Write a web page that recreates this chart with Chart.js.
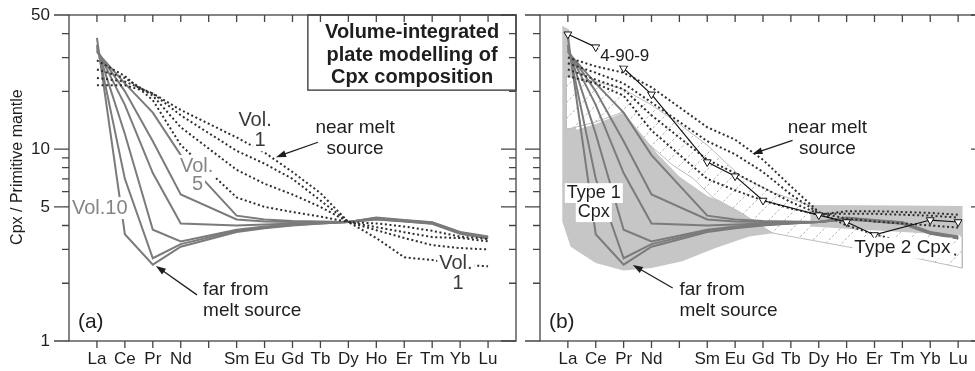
<!DOCTYPE html>
<html>
<head>
<meta charset="utf-8">
<script src="https://cdn.jsdelivr.net/npm/chart.js@4.4.1/dist/chart.umd.min.js"></script>
<style>
  html, body { margin: 0; padding: 0; background: #fff; overflow: hidden; width: 975px; height: 371px; }
  canvas { position: absolute; top: 0; }
  #panelA { left: 0; }
  #panelB { left: 525px; }
</style>
</head>
<body>
<canvas id="panelA" width="525" height="371"></canvas>
<canvas id="panelB" width="470" height="371"></canvas>
<script>
const FONT = '"Liberation Sans", Arial, Helvetica, sans-serif';

// REE order (Pm keeps its slot on the axis but has no data)
const elements = ['La', 'Ce', 'Pr', 'Nd', 'Pm', 'Sm', 'Eu', 'Gd', 'Tb', 'Dy', 'Ho', 'Er', 'Tm', 'Yb', 'Lu'];
const yTicks = [1, 2, 3, 4, 5, 6, 7, 8, 9, 10, 20, 30, 40, 50];
const yLabelled = [1, 5, 10, 50];

// plate model, far from the melt source (solid grey)
const vol5  = [32, 22, 15.5, 9.3, null, 4.5, 4.3, 4.22, 4.2, 4.17, 4.4, 4.27, 4.16, 3.7, 3.5];
const vol6  = [32.5, 20, 11, 5.8, null, 4.3, 4.2, 4.17, 4.17, 4.17, 4.38, 4.25, 4.14, 3.68, 3.48];
const vol7  = [33, 17, 7.5, 4.1, null, 4.0, 4.05, 4.1, 4.15, 4.17, 4.36, 4.23, 4.12, 3.67, 3.46];
const vol8  = [34, 12, 3.8, 3.3, null, 3.8, 3.95, 4.05, 4.12, 4.17, 4.34, 4.22, 4.11, 3.65, 3.45];
const vol9  = [35, 7.0, 2.7, 3.2, null, 3.75, 3.9, 4.02, 4.1, 4.17, 4.32, 4.21, 4.1, 3.64, 3.44];
const vol10 = [38, 3.6, 2.5, 3.1, null, 3.7, 3.87, 4.0, 4.1, 4.17, 4.3, 4.2, 4.08, 3.62, 3.42];

// plate model, near the melt source (dotted), panel (a)
const vol1 = [21.5, 21.5, 19.5, 16, null, 11.5, 9.6, 7.6, 5.9, 4.17, 3.44, 2.73, 2.64, 2.5, 2.45];
const vol2 = [23.5, 22.5, 19.5, 15, null, 9.8, 8.4, 7.0, 5.4, 4.17, 3.78, 3.44, 3.16, 3.05, 3.0];
const vol3 = [26, 23.5, 19, 13, null, 7.8, 6.6, 5.8, 5.0, 4.17, 3.92, 3.69, 3.48, 3.44, 3.31];
const vol4 = [29, 24, 18, 10.5, null, 5.6, 5.0, 4.7, 4.45, 4.17, 4.1, 3.95, 3.75, 3.5, 3.4];

// near-source curves, panel (b)
const nearB1 = [30, 27, 25, 21, null, 13, 11.2, 8.8, 6.4, 4.7, 4.0, 3.6, 3.3, 3.0, 2.8];
const nearB2 = [28, 25, 22, 17.5, null, 11, 9.4, 7.6, 5.8, 4.65, 4.35, 4.2, 4.1, 4.0, 3.9];
const nearB3 = [26, 23, 20.5, 15, null, 8.8, 7.5, 6.3, 5.3, 4.6, 4.6, 4.6, 4.55, 4.5, 4.4];
const nearB4 = [24, 22, 19, 12.5, null, 7.0, 6.1, 5.4, 4.9, 4.55, 4.75, 4.75, 4.7, 4.65, 4.55];

// sample 4-90-9 (no Tb, Tm)
const sample4909 = [39.7, 34, 26.4, 19.3, null, 8.56, 7.23, 5.4, null, 4.53, 4.17, 3.57, null, 4.27, 4.17];

// Type 1 Cpx field (outline: position along REE axis, normalised value)
const type1X = [-0.2, 0.05, 0.3, 1.0, 2.0, 2.6, 3.2, 4.0, 5.0, 6.0, 7.0, 8.8, 14.15, 14.15, 12, 10, 8, 6.5, 5.3, 4.1, 3.0, 2.0, 1.0, 0.1, -0.2, -0.2];
const type1Y = [44, 42, 12.6, 13.5, 15.5, 12.5, 9.5, 7.2, 5.7, 5.0, 4.75, 5.1, 5.05, 3.55, 3.7, 3.9, 3.75, 3.5, 3.05, 2.6, 2.4, 2.33, 2.55, 3.1, 4.2, 44];

// Type 2 Cpx field (hatched)
const type2X = [-0.05, 1, 2, 3, 4, 5, 6.2, 7.4, 8.85, 9.2, 14.15, 14.15, 12.5, 10, 7.35, 6.17, 5.2, 4.48, 3.76, 2.94, 1.97, 0.97, 0.07, -0.05, -0.05];
const type2Y = [24, 22.5, 20.5, 17, 13.5, 10.5, 7.2, 5.9, 5.0, 4.4, 4.2, 2.4, 2.7, 3.1, 3.65, 4.7, 5.6, 7.06, 8.25, 10.5, 15.6, 13.8, 12.8, 12.8, 24];

// Type 1 field, HREE band
const bandX = [8.7, 14.15, 14.15, 12, 10, 8.7, 8.7];
const bandY = [5.1, 5.05, 3.55, 3.7, 3.85, 3.95, 5.1];

const pts = vals => vals.map((v, i) => ({x: i, y: v}));
const poly = (xs, ys) => xs.map((x, i) => ({x, y: ys[i]}));

const GREY_LINE = '#7b7b7b';
const DARK = '#1e1e1e';
const solid = vals => ({data: pts(vals), borderColor: GREY_LINE, borderWidth: 2, pointRadius: 0, spanGaps: true, fill: false, order: 5});
const dotted = vals => ({data: pts(vals), borderColor: '#2e2e2e', borderWidth: 2, borderDash: [2, 2.6], pointRadius: 0, spanGaps: true, fill: false, order: 4});

function hatch() {
  const c = document.createElement('canvas');
  c.width = 16; c.height = 16;
  const g = c.getContext('2d');
  g.fillStyle = '#fff';
  g.fillRect(0, 0, 16, 16);
  g.strokeStyle = '#b4b4b4';
  g.lineWidth = 1;
  g.setLineDash([2.5, 2]);
  g.beginPath();
  g.moveTo(0, 16);
  g.lineTo(16, 0);
  g.stroke();
  return g.createPattern(c, 'repeat');
}

const reePanel = {
  id: 'reePanel',
  afterDatasetsDraw(chart, args, opts) {
    const {ctx, scales: {x, y}} = chart;
    const X = v => x.getPixelForValue(v), Y = v => y.getPixelForValue(v);
    ctx.save();
    if (opts.box) {
      const b = opts.box;
      const l = X(b.x0), r = X(b.x1), t = Y(b.y1), bt = Y(b.y0);
      ctx.fillStyle = '#fff';
      ctx.fillRect(l, t, r - l, bt - t);
      ctx.strokeStyle = '#333';
      ctx.lineWidth = 1.3;
      ctx.strokeRect(l, t, r - l, bt - t);
    }
    ctx.strokeStyle = DARK;
    ctx.fillStyle = DARK;
    for (const a of opts.arrows || []) {
      const x1 = X(a.x1), y1 = Y(a.y1), x2 = X(a.x2), y2 = Y(a.y2);
      const ang = Math.atan2(y2 - y1, x2 - x1);
      const len = 10, half = 3.5;
      const c = Math.cos(ang), s = Math.sin(ang);
      ctx.lineWidth = 1.3;
      ctx.beginPath();
      ctx.moveTo(x1, y1);
      ctx.lineTo(x2 - c * len * 0.8, y2 - s * len * 0.8);
      ctx.stroke();
      ctx.beginPath();
      ctx.moveTo(x2, y2);
      ctx.lineTo(x2 - len * c + half * s, y2 - len * s - half * c);
      ctx.lineTo(x2 - len * c - half * s, y2 - len * s + half * c);
      ctx.closePath();
      ctx.fill();
    }
    for (const n of opts.notes || []) {
      const size = n.size || 19;
      ctx.font = (n.bold ? 'bold ' : '') + size + 'px ' + FONT;
      ctx.textAlign = n.align || 'center';
      ctx.textBaseline = 'middle';
      const px = X(n.x), py = Y(n.y);
      if (n.bg) {
        const w = ctx.measureText(n.text).width, h = size * 1.1;
        const lx = n.align === 'left' ? px : px - w / 2;
        ctx.fillStyle = '#fff';
        ctx.fillRect(lx - 2, py - h / 2, w + 4, h);
      }
      ctx.fillStyle = n.color || DARK;
      ctx.fillText(n.text, px, py);
    }
    ctx.restore();
  },
  afterDraw(chart, args, opts) {
    const {ctx, chartArea: a, scales: {x, y}} = chart;
    ctx.save();
    ctx.strokeStyle = '#444';
    ctx.lineWidth = 1.3;
    ctx.strokeRect(a.left, a.top, a.right - a.left, a.bottom - a.top);
    ctx.beginPath();
    elements.forEach((_, i) => {
      const px = x.getPixelForValue(i);
      ctx.moveTo(px, a.bottom); ctx.lineTo(px, a.bottom + 7);
      ctx.moveTo(px, a.top); ctx.lineTo(px, a.top + 7);
    });
    for (const v of yTicks) {
      const py = y.getPixelForValue(v);
      const len = yLabelled.includes(v) ? 15 : 7;
      ctx.moveTo(a.left - len, py); ctx.lineTo(a.left, py);
      ctx.moveTo(a.right, py); ctx.lineTo(a.right - len, py);
    }
    ctx.stroke();
    if (opts.yTitle) {
      ctx.translate(a.left - 51, y.getPixelForValue(8.06));
      ctx.rotate(-Math.PI / 2);
      ctx.font = '16px ' + FONT;
      ctx.fillStyle = DARK;
      ctx.textAlign = 'center';
      ctx.textBaseline = 'middle';
      ctx.fillText(opts.yTitle, 0, 0);
    }
    ctx.restore();
  }
};

function panel(id, datasets, opts) {
  return new Chart(document.getElementById(id), {
    type: 'line',
    data: {datasets},
    options: {
      responsive: false,
      animation: false,
      events: [],
      layout: {padding: {top: 15, right: 9, left: 0, bottom: 0}},
      elements: {line: {tension: 0}},
      plugins: {legend: {display: false}, tooltip: {enabled: false}, reePanel: opts},
      scales: {
        x: {
          type: 'linear', min: -1, max: 15,
          afterBuildTicks: s => { s.ticks = elements.map((_, i) => ({value: i})); },
          afterFit: s => { s.height = 30; s.paddingLeft = 0; s.paddingRight = 0; },
          grid: {display: false, drawTicks: false},
          border: {display: false},
          ticks: {
            autoSkip: false, maxRotation: 0, padding: 8, color: DARK,
            font: {size: 17, family: FONT},
            callback: v => (elements[v] === 'Pm' ? '' : elements[v])
          }
        },
        y: {
          type: 'logarithmic', min: 1, max: 50,
          afterBuildTicks: s => { s.ticks = yTicks.map(v => ({value: v})); },
          // labels sit 19px off the axis; keep that gap out of the plot-area padding
          afterFit: s => { s.width = opts.axisWidth; s.paddingTop = 0; s.paddingBottom = 0; },
          grid: {display: false, drawTicks: false},
          border: {display: false},
          ticks: {
            display: opts.yLabels, autoSkip: false, padding: 19, color: DARK,
            font: {size: 17, family: FONT},
            callback: v => (yLabelled.includes(v) ? String(v) : '')
          }
        }
      }
    },
    plugins: [reePanel]
  });
}

const GREY_TEXT = '#858585';

panel('panelA', [
  solid(vol5), solid(vol6), solid(vol7), solid(vol8), solid(vol9), solid(vol10),
  dotted(vol1), dotted(vol2), dotted(vol3), dotted(vol4)
], {
  axisWidth: 69, yLabels: true, yTitle: 'Cpx / Primitive mantle',
  box: {x0: 7.55, x1: 15, y0: 20.3, y1: 50},
  arrows: [
    {x1: 7.91, y1: 10.86, x2: 6.41, y2: 9.08},
    {x1: 3.58, y1: 1.74, x2: 2.11, y2: 2.46}
  ],
  notes: [
    {text: 'Volume-integrated', x: 11.28, y: 40.7, bold: true, size: 20},
    {text: 'plate modelling of', x: 11.28, y: 30.9, bold: true, size: 20},
    {text: 'Cpx composition', x: 11.28, y: 23.7, bold: true, size: 20},
    {text: 'Vol.', x: 5.66, y: 14.1, size: 20, color: '#3a3a3a', bg: true},
    {text: '1', x: 5.84, y: 11.1, size: 20, color: '#3a3a3a', bg: true},
    {text: 'near melt', x: 9.24, y: 12.9},
    {text: 'source', x: 9.24, y: 10.1},
    {text: 'Vol.', x: 3.57, y: 8.16, size: 20, color: GREY_TEXT, bg: true},
    {text: '5', x: 3.6, y: 6.58, size: 20, color: GREY_TEXT, bg: true},
    {text: 'Vol.10', x: 0.1, y: 4.93, size: 20, color: GREY_TEXT, bg: true},
    {text: 'Vol.', x: 12.85, y: 2.55, size: 20, color: '#3a3a3a', bg: true},
    {text: '1', x: 12.93, y: 2.0, size: 20, color: '#3a3a3a'},
    {text: 'far from', x: 3.8, y: 1.84, align: 'left'},
    {text: 'melt source', x: 3.8, y: 1.43, align: 'left'},
    {text: '(a)', x: -0.68, y: 1.26, align: 'left', size: 21}
  ]
});

panel('panelB', [
  {data: poly(type1X, type1Y), fill: 'shape', backgroundColor: '#c6c6c6', borderWidth: 0, pointRadius: 0, order: 12},
  {data: poly(type2X, type2Y), fill: 'shape', backgroundColor: hatch(), borderColor: '#bdbdbd', borderWidth: 1, pointRadius: 0, order: 11},
  {data: poly(bandX, bandY), fill: 'shape', backgroundColor: '#c6c6c6', borderWidth: 0, pointRadius: 0, order: 10},
  solid(vol5), solid(vol6), solid(vol7), solid(vol8), solid(vol9), solid(vol10),
  dotted(nearB1), dotted(nearB2), dotted(nearB3), dotted(nearB4),
  {
    data: pts(sample4909), borderColor: '#111', borderWidth: 1.2, spanGaps: true, fill: false, order: 1,
    pointStyle: 'triangle', rotation: 180, pointRadius: 4.5,
    pointBackgroundColor: '#fff', pointBorderColor: '#111', pointBorderWidth: 1
  }
], {
  axisWidth: 15, yLabels: false,
  arrows: [
    {x1: 8.06, y1: 11.1, x2: 6.62, y2: 9.44},
    {x1: 3.76, y1: 1.89, x2: 2.33, y2: 2.49}
  ],
  notes: [
    {text: '4-90-9', x: 2.04, y: 30.5, size: 17, bg: true},
    {text: 'Type 1', x: 0.93, y: 5.9, size: 18, bg: true},
    {text: 'Cpx', x: 0.93, y: 4.69, size: 18, bg: true},
    {text: 'near melt', x: 9.31, y: 12.9},
    {text: 'source', x: 9.31, y: 10.1},
    {text: 'far from', x: 4.0, y: 1.84, align: 'left'},
    {text: 'melt source', x: 4.0, y: 1.43, align: 'left'},
    {text: 'Type 2 Cpx', x: 12.0, y: 3.05, bg: true},
    {text: '(b)', x: -0.68, y: 1.26, align: 'left', size: 21}
  ]
});
</script>
</body>
</html>
